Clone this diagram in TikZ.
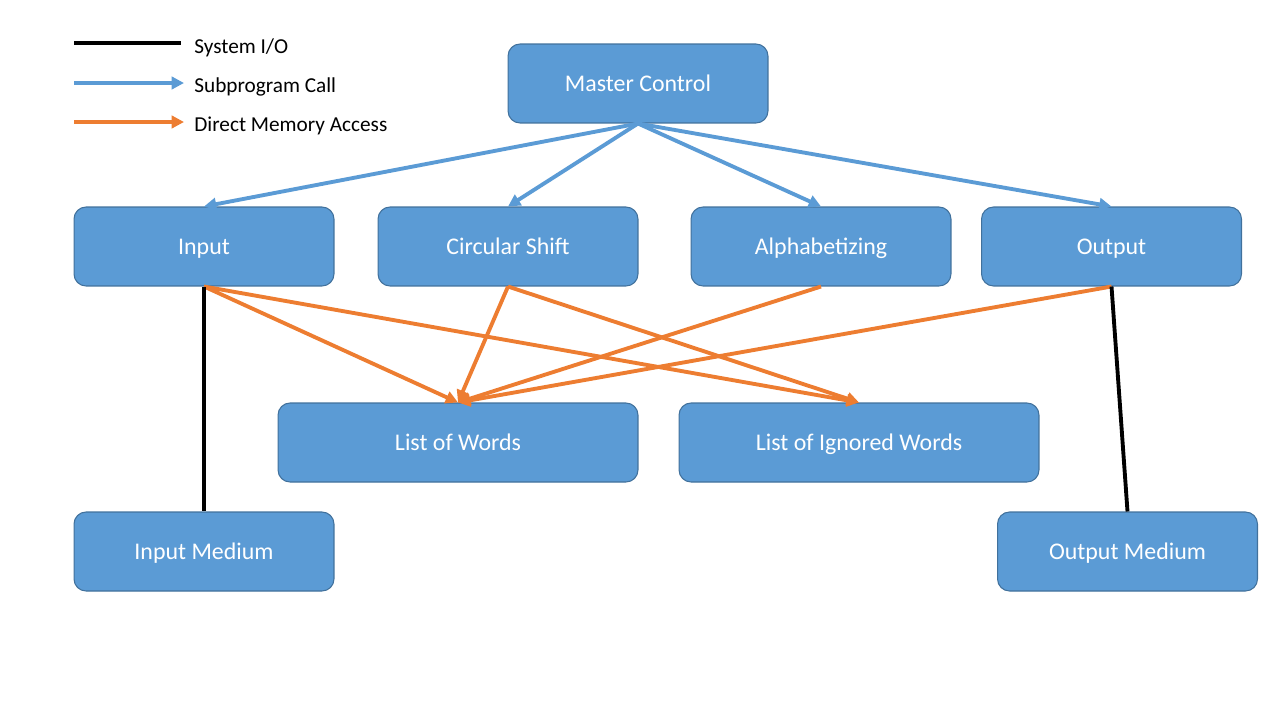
\documentclass[tikz,border=0pt]{standalone}
\usepackage{fontspec}
\setmainfont{Carlito}
\usetikzlibrary{arrows.meta}
\definecolor{boxfill}{HTML}{5B9BD5}
\definecolor{boxline}{HTML}{41719C}
\definecolor{callblue}{HTML}{5B9BD5}
\definecolor{memorange}{HTML}{ED7D31}
\tikzset{
  box/.style={draw=boxline, line width=0.6pt, fill=boxfill, rounded corners=0.24cm,
    minimum width=5.2cm, minimum height=1.58cm, inner sep=0pt,
    text height=8.8pt, text depth=0pt,
    text=white, font=\fontsize{13.6}{16}\selectfont},
  widebox/.style={box, minimum width=7.2cm},
  sysio/.style={draw=black, line width=2.2pt},
  callarrow/.style={draw=callblue, line width=2.2pt, -{Triangle[length=7pt,width=7pt]}},
  memarrow/.style={draw=memorange, line width=2.2pt, -{Triangle[length=7pt,width=7pt]}},
  legendtext/.style={anchor=west, inner sep=0pt, text height=7.8pt, text depth=0pt,
    font=\fontsize{12.1}{14}\selectfont}
}
\begin{document}
\begin{tikzpicture}[x=0.02cm, y=-0.02cm]
\useasboundingbox (0,0) rectangle (1280,720);
% nodes
\node[box] (master) at (638,83.5) {Master Control};
\node[box] (input) at (204,246.5) {Input};
\node[box] (shift) at (508,246.5) {Circular Shift};
\node[box] (alpha) at (821,246.5) {Alphabetizing};
\node[box] (output) at (1111.5,246.5) {Output};
\node[widebox] (words) at (458,442.5) {List of Words};
\node[widebox] (ignored) at (859,442.5) {List of Ignored Words};
\node[box] (inmed) at (204,551.5) {Input Medium};
\node[box] (outmed) at (1127.5,551.5) {Output Medium};
% subprogram calls
\draw[callarrow] (master.south) -- (input.north);
\draw[callarrow] (master.south) -- (shift.north);
\draw[callarrow] (master.south) -- (alpha.north);
\draw[callarrow] (master.south) -- (output.north);
% direct memory access
\draw[memarrow] (input.south) -- (words.north);
\draw[memarrow] (input.south) -- (ignored.north);
\draw[memarrow] (shift.south) -- (words.north);
\draw[memarrow] (shift.south) -- (ignored.north);
\draw[memarrow] (alpha.south) -- (words.north);
\draw[memarrow] (output.south) -- (words.north);
% system I/O
\draw[sysio] (input.south) -- (inmed.north);
\draw[sysio] (output.south) -- (outmed.north);
% legend
\coordinate (la1) at (74,43);
\coordinate (lb1) at (181,43);
\coordinate (la2) at (74,83);
\coordinate (lb2) at (184,83);
\coordinate (la3) at (74,122);
\coordinate (lb3) at (184,122);
\draw[sysio] (la1) -- (lb1);
\draw[callarrow] (la2) -- (lb2);
\draw[memarrow] (la3) -- (lb3);
\node[legendtext] (t1) at (194,46.5) {System I/O};
\node[legendtext] (t2) at (194,85.5) {Subprogram Call};
\node[legendtext] (t3) at (194,124.5) {Direct Memory Access};
\end{tikzpicture}
\end{document}
